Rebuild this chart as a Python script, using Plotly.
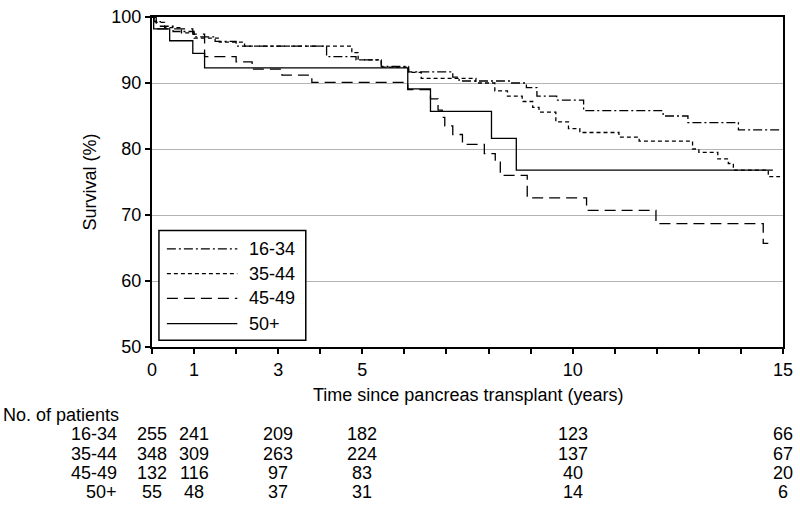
import plotly.graph_objects as go

# ---- data ----
groups = ["16-34", "35-44", "45-49", "50+"]

t_1634 = [0, 0.05, 0.2, 0.5, 1.0, 1.5, 2.0, 4.15, 4.85, 5.45, 6.1, 7.15, 7.3, 8.55, 8.9, 9.15, 9.62, 10.26, 12.15, 12.74, 13.94, 14.93]
s_1634 = [100, 99.3, 98.6, 97.8, 97.0, 96.3, 95.6, 94.0, 93.5, 92.5, 91.7, 90.9, 90.3, 90.0, 89.3, 88.0, 87.4, 85.8, 85.0, 84.0, 82.9, 82.9]

t_3544 = [0, 0.1, 0.3, 0.7, 1.0, 1.6, 2.2, 4.75, 4.9, 5.45, 6.1, 6.4, 7.7, 8.15, 8.45, 8.8, 9.05, 9.2, 9.6, 9.9, 10.17, 11.1, 11.58, 12.85, 13.0, 13.45, 13.7, 13.82, 14.65, 14.93]
s_3544 = [100, 99.2, 98.4, 97.6, 96.8, 96.2, 95.6, 94.6, 93.5, 92.4, 91.6, 90.7, 90.0, 88.8, 88.0, 87.2, 86.3, 85.6, 84.1, 83.1, 82.5, 81.8, 81.2, 80.0, 79.5, 78.5, 77.8, 76.8, 75.8, 75.8]

t_4549 = [0, 0.1, 0.97, 1.25, 2.0, 2.38, 3.09, 3.8, 6.08, 6.62, 6.8, 6.9, 6.96, 7.15, 7.38, 7.9, 8.16, 8.28, 8.92, 10.33, 11.98, 14.53, 14.65]
s_4549 = [100, 98.2, 97.4, 94.0, 93.2, 92.1, 91.2, 90.1, 89.0, 87.6, 85.9, 84.8, 83.5, 82.2, 80.7, 79.3, 78.0, 76.0, 72.6, 70.7, 68.7, 65.7, 65.7]

t_50p = [0, 0.04, 0.42, 0.97, 1.25, 6.08, 6.62, 8.07, 8.66, 14.76]
s_50p = [100, 98.2, 96.4, 94.5, 92.3, 89.1, 85.7, 81.6, 76.8, 76.8]

x_tick_vals = list(range(0, 16))
x_tick_labels = ["0", "1", "", "3", "", "5", "", "", "", "", "10", "", "", "", "", "15"]
y_tick_vals = [50, 60, 70, 80, 90, 100]

risk_times = [0, 1, 3, 5, 10, 15]
risk_1634 = [255, 241, 209, 182, 123, 66]
risk_3544 = [348, 309, 263, 224, 137, 67]
risk_4549 = [132, 116, 97, 83, 40, 20]
risk_50p = [55, 48, 37, 31, 14, 6]

# ---- styling ----
FONT = "Liberation Sans, Arial, sans-serif"
FS = 18
dashes = ["9px,3px,2px,3px", "4px,3px", "11px,6px", "solid"]
series = [(t_1634, s_1634), (t_3544, s_3544), (t_4549, s_4549), (t_50p, s_50p)]
risks = [risk_1634, risk_3544, risk_4549, risk_50p]

W, H = 800, 508
L, R, T, B = 152, 12, 7, 161
PW, PH = W - L - R, H - T - B

def px_to_paper_x(px):
    return (px - L) / PW

def px_to_paper_y(py):
    return (H - B - py) / PH

fig = go.Figure()
for name, (tt, ss), d in zip(groups, series, dashes):
    fig.add_trace(go.Scatter(x=tt, y=ss, mode="lines", name=name,
                             line=dict(shape="hv", color="black", width=1.3, dash=d),
                             showlegend=False))

shapes = []
annotations = []

# legend box
shapes.append(dict(type="rect", xref="paper", yref="paper",
                   x0=px_to_paper_x(159), x1=px_to_paper_x(307),
                   y0=px_to_paper_y(340), y1=px_to_paper_y(227),
                   line=dict(color="black", width=1.5), fillcolor="white", layer="above"))
leg_y = [246, 271.5, 297, 323]
for name, d, yy in zip(groups, dashes, leg_y):
    shapes.append(dict(type="line", xref="paper", yref="paper",
                       x0=px_to_paper_x(167), x1=px_to_paper_x(238),
                       y0=px_to_paper_y(yy), y1=px_to_paper_y(yy),
                       line=dict(color="black", width=1.3, dash=d), layer="above"))
    annotations.append(dict(xref="paper", yref="paper", x=px_to_paper_x(248), y=px_to_paper_y(yy),
                            text=name, showarrow=False, xanchor="left", yanchor="middle",
                            font=dict(family=FONT, size=FS, color="black")))

# axis titles
annotations.append(dict(xref="paper", yref="paper", x=0.5, y=px_to_paper_y(396),
                        text="Time since pancreas transplant (years)", showarrow=False,
                        xanchor="center", yanchor="middle",
                        font=dict(family=FONT, size=FS, color="black")))
annotations.append(dict(xref="paper", yref="paper", x=px_to_paper_x(90), y=0.5,
                        text="Survival (%)", showarrow=False, textangle=-90,
                        xanchor="center", yanchor="middle",
                        font=dict(family=FONT, size=FS, color="black")))

# number at risk table
annotations.append(dict(xref="paper", yref="paper", x=px_to_paper_x(0), y=px_to_paper_y(417),
                        text="No. of patients", showarrow=False, xanchor="left", yanchor="middle",
                        font=dict(family=FONT, size=FS, color="black")))
row_y = [437, 457, 477, 496]
for name, counts, yy in zip(groups, risks, row_y):
    annotations.append(dict(xref="paper", yref="paper", x=px_to_paper_x(119), y=px_to_paper_y(yy),
                            text=name, showarrow=False, xanchor="right", yanchor="middle",
                            font=dict(family=FONT, size=FS, color="black")))
    for tv, c in zip(risk_times, counts):
        annotations.append(dict(xref="x", yref="paper", x=tv, y=px_to_paper_y(yy),
                                text=str(c), showarrow=False, xanchor="center", yanchor="middle",
                                font=dict(family=FONT, size=FS, color="black")))

fig.update_layout(
    width=W, height=H,
    margin=dict(l=L, r=R, t=T, b=B, pad=0),
    paper_bgcolor="white", plot_bgcolor="white",
    font=dict(family=FONT, size=FS, color="black"),
    shapes=shapes, annotations=annotations,
    xaxis=dict(range=[0, 15], tickmode="array", tickvals=x_tick_vals, ticktext=x_tick_labels,
               ticks="outside", ticklen=5, tickwidth=1.5, tickcolor="black",
               showline=True, linecolor="black", linewidth=2, mirror=True,
               showgrid=False, zeroline=False, ticklabeloverflow="allow",
               tickfont=dict(family=FONT, size=FS, color="black")),
    yaxis=dict(range=[50, 100], tickmode="array", tickvals=y_tick_vals,
               ticks="outside", ticklen=5, tickwidth=1.5, tickcolor="black",
               showline=True, linecolor="black", linewidth=2, mirror=True,
               showgrid=True, gridcolor="#b4b4b4", gridwidth=1, zeroline=False,
               ticklabeloverflow="allow",
               tickfont=dict(family=FONT, size=FS, color="black")),
)

fig.write_html("out.html", config={"displayModeBar": False},
               post_script="document.body.style.margin='0px';document.body.style.padding='0px';")
